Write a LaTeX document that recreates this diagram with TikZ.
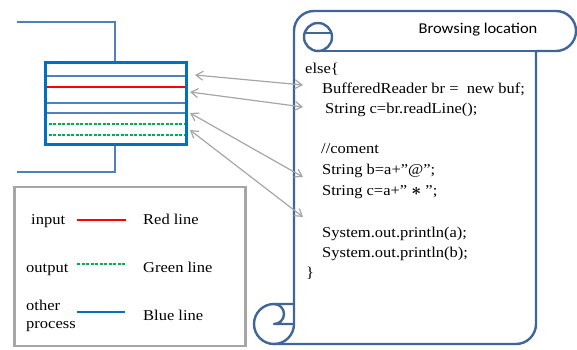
\documentclass[tikz,border=0pt]{standalone}
\usepackage{amsmath}
\usepackage{fontspec}
\setmainfont{Liberation Serif}
\newfontfamily\codefont[FakeStretch=1.1]{Liberation Serif}
\newfontfamily\titlefont[FakeStretch=1.1]{Carlito}
\usetikzlibrary{arrows.meta}

\definecolor{scrollblue}{RGB}{65,101,153}
\definecolor{boxblue}{RGB}{0,112,192}
\definecolor{steelblue}{RGB}{79,129,189}
\definecolor{linkgray}{RGB}{166,166,166}
\definecolor{okgreen}{RGB}{0,176,80}

\tikzset{
  scrollline/.style={draw=scrollblue, line width=2.4pt, line join=round},
  bufferbox/.style={draw=boxblue, line width=3pt},
  plainrow/.style={draw=steelblue, line width=1.4pt},
  inrow/.style={draw=red, line width=1.4pt},
  outrow/.style={draw=okgreen, line width=1.4pt, dash pattern=on 3pt off 1.5pt},
  otherrow/.style={draw=boxblue, line width=1.4pt},
  bracket/.style={draw=steelblue, line width=1.4pt},
  link/.style={draw=linkgray, line width=1.2pt,
    {Straight Barb[length=7pt,width=9pt]}-{Straight Barb[length=7pt,width=9pt]}},
  codeline/.style={anchor=base west, inner sep=0pt,
    font=\codefont\fontsize{15}{18}\selectfont},
  keytext/.style={anchor=base west, inner sep=0pt,
    font=\codefont\fontsize{15}{18}\selectfont},
}

\begin{document}
\begin{tikzpicture}[x=1pt, y=1pt]
\useasboundingbox (0,0) rectangle (577,349);

% ---- buffer with its rows and brackets ----
\draw[bracket] (17,327) -- (115,327) -- (115,285);
\draw[bracket] (115,203) -- (115,177) -- (17,177);
\draw[plainrow] (44,273) -- (185,273);
\draw[inrow]    (44,262) -- (185,262);
\draw[plainrow] (44,246) -- (185,246);
\draw[plainrow] (44,236) -- (185,236);
\draw[outrow]   (44,225) -- (185,225);
\draw[outrow]   (44,214) -- (185,214);
\node[bufferbox, minimum width=141pt, minimum height=82pt, inner sep=0pt,
      anchor=south west] (buffer) at (44,203) {};

% ---- legend ----
\node[draw=linkgray, line width=2.5pt, minimum width=231pt, minimum height=159pt,
      inner sep=0pt, anchor=south west] (legend) at (13,2) {};
\node[keytext] (kin) at (31,125) {input};
\draw[inrow] (77,129) -- (126,129);
\node[keytext] (kred) at (143,125) {Red line};
\node[keytext] (kout) at (26,77) {output};
\draw[outrow] (77,85) -- (125,85);
\node[keytext] (kgreen) at (143,77) {Green line};
\node[keytext] (kother) at (26,39) {other};
\node[keytext] (kproc) at (26,21) {process};
\draw[otherrow] (77,37) -- (125,37);
\node[keytext] (kblue) at (143,29) {Blue line};

% ---- scroll outline ----
\draw[scrollline]
  (294,45) -- (294,318) arc[start angle=180, end angle=90, radius=20pt]
  -- (556,338) arc[start angle=90, end angle=-90, radius=20pt]
  -- (536,298) -- (536,25) arc[start angle=0, end angle=-90, radius=20pt]
  -- (274,5) arc[start angle=270, end angle=90, radius=20pt]
  -- cycle;
% lower edge of the top roll and its curl
\draw[scrollline] (536,298) -- (318,298);
\draw[scrollline] (318,312) circle[radius=14pt];
\draw[scrollline] (304.6,316) -- (331.4,316);
% curl of the bottom roll
\draw[scrollline] (274,45) arc[start angle=90, end angle=-90, radius=10pt] -- (294,25);
\draw[scrollline] (274,5) arc[start angle=-90, end angle=0, radius=20pt] -- (294,45);

\node[inner sep=0pt, font=\titlefont\fontsize{15}{18}\selectfont] (title) at (478,319)
  {Browsing location};

% ---- code on the scroll ----
\node[codeline] (c1) at (305,276) {else\{};
\node[codeline] (c2) at (322,256) {BufferedReader br =~~new buf;};
\node[codeline] (c3) at (325,236) {String c=br.readLine();};
\node[codeline] (c4) at (321,196) {//coment};
\node[codeline] (c5) at (322,175) {String b=a+”@”;};
\node[codeline] (c6) at (322,154) {String c=a+” {\fontsize{19}{19}\selectfont$\boldsymbol{\ast}$} ”;};
\node[codeline] (c7) at (322,112) {System.out.println(a);};
\node[codeline] (c8) at (322,92)  {System.out.println(b);};
\node[codeline] (c9) at (306,72)  {\}};

% ---- links between rows and code ----
\coordinate (r1) at (195,274);
\coordinate (r2) at (190,257);
\coordinate (r3) at (190,236);
\coordinate (r4) at (190,219);
\coordinate (t1) at (303,264);
\coordinate (t2) at (303,242);
\coordinate (t3) at (303,172);
\coordinate (t4) at (303,132);
\draw[link] (r1) -- (t1);
\draw[link] (r2) -- (t2);
\draw[link] (r3) -- (t3);
\draw[link] (r4) -- (t4);
\end{tikzpicture}
\end{document}
